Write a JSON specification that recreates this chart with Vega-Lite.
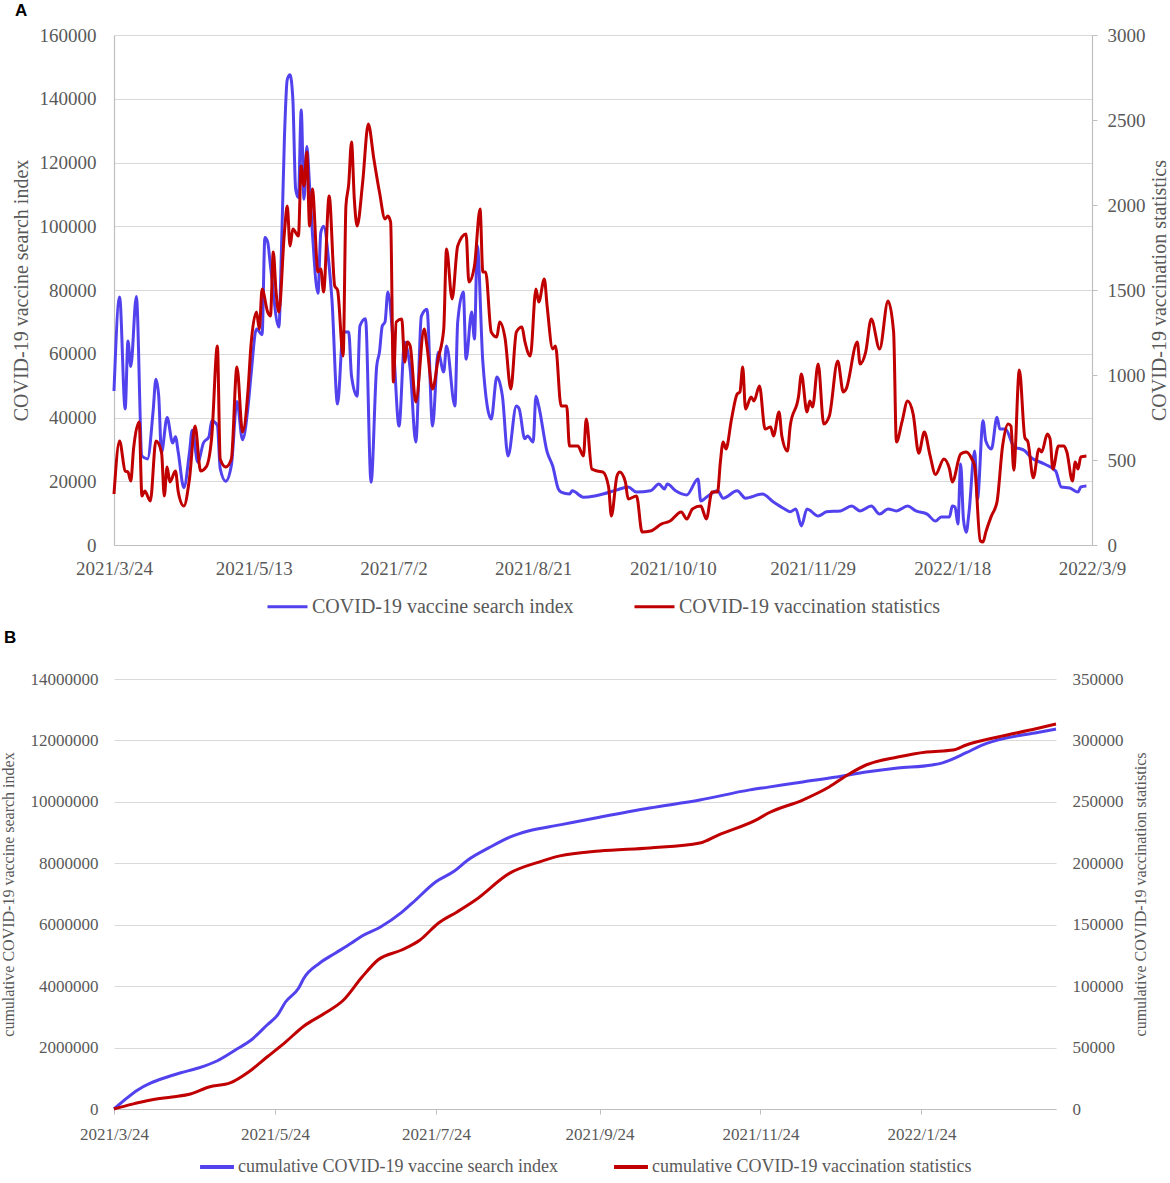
{
  "$schema": "https://vega.github.io/schema/vega-lite/v6.json",
  "padding": {"left": 0, "top": 2, "right": 0, "bottom": 0},
  "columns": 1,
  "align": "none",
  "spacing": 12,
  "datasets": {
    "a_search": [
      {"d": "2021-03-24", "v": 48300}, {"d": "2021-03-26", "v": 77800}, {"d": "2021-03-28", "v": 42700},
      {"d": "2021-03-29", "v": 64000}, {"d": "2021-03-30", "v": 56000}, {"d": "2021-04-01", "v": 78000},
      {"d": "2021-04-03", "v": 27900}, {"d": "2021-04-05", "v": 27000}, {"d": "2021-04-07", "v": 42000},
      {"d": "2021-04-08", "v": 52000}, {"d": "2021-04-09", "v": 46700}, {"d": "2021-04-10", "v": 29000},
      {"d": "2021-04-12", "v": 40000}, {"d": "2021-04-14", "v": 32000}, {"d": "2021-04-15", "v": 34000},
      {"d": "2021-04-16", "v": 29000}, {"d": "2021-04-18", "v": 18000}, {"d": "2021-04-20", "v": 29000},
      {"d": "2021-04-21", "v": 36000}, {"d": "2021-04-23", "v": 26000}, {"d": "2021-04-25", "v": 32000},
      {"d": "2021-04-27", "v": 34000}, {"d": "2021-04-28", "v": 39000}, {"d": "2021-04-30", "v": 37500},
      {"d": "2021-05-01", "v": 24000}, {"d": "2021-05-03", "v": 20000}, {"d": "2021-05-05", "v": 25000},
      {"d": "2021-05-07", "v": 45000}, {"d": "2021-05-09", "v": 33000}, {"d": "2021-05-11", "v": 43700},
      {"d": "2021-05-12", "v": 53000}, {"d": "2021-05-14", "v": 67800}, {"d": "2021-05-16", "v": 66000},
      {"d": "2021-05-17", "v": 96500}, {"d": "2021-05-18", "v": 95000}, {"d": "2021-05-19", "v": 87500},
      {"d": "2021-05-22", "v": 68400}, {"d": "2021-05-23", "v": 95000}, {"d": "2021-05-24", "v": 128000},
      {"d": "2021-05-25", "v": 146000}, {"d": "2021-05-26", "v": 147500}, {"d": "2021-05-27", "v": 140000},
      {"d": "2021-05-28", "v": 111700}, {"d": "2021-05-29", "v": 109000}, {"d": "2021-05-30", "v": 136500},
      {"d": "2021-05-31", "v": 108500}, {"d": "2021-06-01", "v": 125000}, {"d": "2021-06-02", "v": 112600},
      {"d": "2021-06-03", "v": 98000}, {"d": "2021-06-05", "v": 79000}, {"d": "2021-06-06", "v": 98000},
      {"d": "2021-06-07", "v": 100000}, {"d": "2021-06-09", "v": 87500}, {"d": "2021-06-10", "v": 77000},
      {"d": "2021-06-12", "v": 44200}, {"d": "2021-06-14", "v": 66800}, {"d": "2021-06-16", "v": 66800},
      {"d": "2021-06-17", "v": 53000}, {"d": "2021-06-19", "v": 46700}, {"d": "2021-06-20", "v": 68700},
      {"d": "2021-06-22", "v": 71000}, {"d": "2021-06-24", "v": 19700}, {"d": "2021-06-26", "v": 56000},
      {"d": "2021-06-27", "v": 60500}, {"d": "2021-06-28", "v": 68700}, {"d": "2021-06-29", "v": 70000},
      {"d": "2021-06-30", "v": 79400}, {"d": "2021-07-02", "v": 62400}, {"d": "2021-07-04", "v": 37300},
      {"d": "2021-07-06", "v": 63700}, {"d": "2021-07-08", "v": 55200}, {"d": "2021-07-10", "v": 32300},
      {"d": "2021-07-12", "v": 71800}, {"d": "2021-07-14", "v": 74000}, {"d": "2021-07-16", "v": 37300},
      {"d": "2021-07-18", "v": 60500}, {"d": "2021-07-20", "v": 54300}, {"d": "2021-07-21", "v": 62400},
      {"d": "2021-07-24", "v": 43600}, {"d": "2021-07-25", "v": 70000}, {"d": "2021-07-27", "v": 79400},
      {"d": "2021-07-28", "v": 58300}, {"d": "2021-07-30", "v": 73100}, {"d": "2021-07-31", "v": 64600},
      {"d": "2021-08-01", "v": 94000}, {"d": "2021-08-03", "v": 57400}, {"d": "2021-08-06", "v": 39500},
      {"d": "2021-08-08", "v": 52700}, {"d": "2021-08-10", "v": 46700}, {"d": "2021-08-12", "v": 27900},
      {"d": "2021-08-15", "v": 43600}, {"d": "2021-08-16", "v": 42700}, {"d": "2021-08-18", "v": 33300},
      {"d": "2021-08-19", "v": 34200}, {"d": "2021-08-21", "v": 32300}, {"d": "2021-08-22", "v": 46700},
      {"d": "2021-08-23", "v": 43600}, {"d": "2021-08-26", "v": 29200}, {"d": "2021-08-28", "v": 24800},
      {"d": "2021-08-30", "v": 17600}, {"d": "2021-08-31", "v": 16600}, {"d": "2021-09-03", "v": 16000},
      {"d": "2021-09-04", "v": 17000}, {"d": "2021-09-08", "v": 15000}, {"d": "2021-09-12", "v": 15400},
      {"d": "2021-09-15", "v": 16000}, {"d": "2021-09-20", "v": 17300}, {"d": "2021-09-24", "v": 18200},
      {"d": "2021-09-27", "v": 16600}, {"d": "2021-10-02", "v": 17000}, {"d": "2021-10-05", "v": 19100},
      {"d": "2021-10-07", "v": 17600}, {"d": "2021-10-08", "v": 19100}, {"d": "2021-10-11", "v": 17000},
      {"d": "2021-10-15", "v": 15700}, {"d": "2021-10-19", "v": 20700}, {"d": "2021-10-20", "v": 13800},
      {"d": "2021-10-22", "v": 15000}, {"d": "2021-10-26", "v": 17000}, {"d": "2021-10-28", "v": 14700},
      {"d": "2021-11-02", "v": 17000}, {"d": "2021-11-05", "v": 14700}, {"d": "2021-11-11", "v": 16000},
      {"d": "2021-11-15", "v": 13500}, {"d": "2021-11-19", "v": 11300}, {"d": "2021-11-21", "v": 10400},
      {"d": "2021-11-23", "v": 11300}, {"d": "2021-11-25", "v": 6000}, {"d": "2021-11-27", "v": 11300},
      {"d": "2021-12-01", "v": 9100}, {"d": "2021-12-04", "v": 10400}, {"d": "2021-12-09", "v": 10700},
      {"d": "2021-12-13", "v": 12200}, {"d": "2021-12-16", "v": 10700}, {"d": "2021-12-20", "v": 12200},
      {"d": "2021-12-23", "v": 9700}, {"d": "2021-12-26", "v": 11300}, {"d": "2021-12-29", "v": 10700},
      {"d": "2022-01-02", "v": 12200}, {"d": "2022-01-05", "v": 10700}, {"d": "2022-01-09", "v": 9700},
      {"d": "2022-01-12", "v": 7500}, {"d": "2022-01-14", "v": 8800}, {"d": "2022-01-17", "v": 8800},
      {"d": "2022-01-18", "v": 12200}, {"d": "2022-01-19", "v": 11900}, {"d": "2022-01-20", "v": 6600},
      {"d": "2022-01-21", "v": 25400}, {"d": "2022-01-22", "v": 8000}, {"d": "2022-01-23", "v": 4000},
      {"d": "2022-01-24", "v": 10400}, {"d": "2022-01-26", "v": 29500}, {"d": "2022-01-27", "v": 14400},
      {"d": "2022-01-29", "v": 39000}, {"d": "2022-01-30", "v": 32600}, {"d": "2022-02-01", "v": 30100},
      {"d": "2022-02-03", "v": 40100}, {"d": "2022-02-04", "v": 36400}, {"d": "2022-02-06", "v": 36400},
      {"d": "2022-02-09", "v": 31000}, {"d": "2022-02-13", "v": 29500}, {"d": "2022-02-15", "v": 27600},
      {"d": "2022-02-20", "v": 25400}, {"d": "2022-02-24", "v": 23200}, {"d": "2022-02-26", "v": 18200},
      {"d": "2022-03-01", "v": 17900}, {"d": "2022-03-04", "v": 16600}, {"d": "2022-03-05", "v": 18200},
      {"d": "2022-03-07", "v": 18500}
    ],
    "a_vacc": [
      {"d": "2021-03-24", "v": 300}, {"d": "2021-03-26", "v": 612}, {"d": "2021-03-28", "v": 435},
      {"d": "2021-03-29", "v": 429}, {"d": "2021-03-30", "v": 376}, {"d": "2021-03-31", "v": 565},
      {"d": "2021-04-02", "v": 724}, {"d": "2021-04-03", "v": 288}, {"d": "2021-04-04", "v": 318},
      {"d": "2021-04-06", "v": 259}, {"d": "2021-04-08", "v": 612}, {"d": "2021-04-10", "v": 547},
      {"d": "2021-04-11", "v": 288}, {"d": "2021-04-12", "v": 459}, {"d": "2021-04-13", "v": 371},
      {"d": "2021-04-15", "v": 435}, {"d": "2021-04-16", "v": 312}, {"d": "2021-04-18", "v": 229},
      {"d": "2021-04-20", "v": 388}, {"d": "2021-04-22", "v": 700}, {"d": "2021-04-24", "v": 435},
      {"d": "2021-04-26", "v": 459}, {"d": "2021-04-28", "v": 641}, {"d": "2021-04-30", "v": 1170},
      {"d": "2021-05-01", "v": 506}, {"d": "2021-05-03", "v": 459}, {"d": "2021-05-05", "v": 506},
      {"d": "2021-05-07", "v": 1047}, {"d": "2021-05-09", "v": 665}, {"d": "2021-05-11", "v": 918},
      {"d": "2021-05-12", "v": 1170}, {"d": "2021-05-14", "v": 1370}, {"d": "2021-05-15", "v": 1270},
      {"d": "2021-05-16", "v": 1506}, {"d": "2021-05-18", "v": 1370}, {"d": "2021-05-19", "v": 1347},
      {"d": "2021-05-20", "v": 1723}, {"d": "2021-05-21", "v": 1488}, {"d": "2021-05-22", "v": 1370},
      {"d": "2021-05-24", "v": 1841}, {"d": "2021-05-25", "v": 1994}, {"d": "2021-05-26", "v": 1759},
      {"d": "2021-05-27", "v": 1859}, {"d": "2021-05-29", "v": 1818}, {"d": "2021-05-30", "v": 2229},
      {"d": "2021-05-31", "v": 2112}, {"d": "2021-06-01", "v": 2312}, {"d": "2021-06-02", "v": 1876},
      {"d": "2021-06-03", "v": 2094}, {"d": "2021-06-05", "v": 1606}, {"d": "2021-06-06", "v": 1623},
      {"d": "2021-06-07", "v": 1488}, {"d": "2021-06-09", "v": 2053}, {"d": "2021-06-11", "v": 1523},
      {"d": "2021-06-12", "v": 1500}, {"d": "2021-06-14", "v": 1112}, {"d": "2021-06-15", "v": 1994},
      {"d": "2021-06-16", "v": 2123}, {"d": "2021-06-17", "v": 2370}, {"d": "2021-06-18", "v": 2035},
      {"d": "2021-06-19", "v": 1876}, {"d": "2021-06-21", "v": 2135}, {"d": "2021-06-23", "v": 2476},
      {"d": "2021-06-25", "v": 2270}, {"d": "2021-06-27", "v": 2076}, {"d": "2021-06-29", "v": 1918},
      {"d": "2021-06-30", "v": 1935}, {"d": "2021-07-01", "v": 1900}, {"d": "2021-07-02", "v": 959},
      {"d": "2021-07-03", "v": 1312}, {"d": "2021-07-05", "v": 1329}, {"d": "2021-07-06", "v": 1076},
      {"d": "2021-07-07", "v": 1194}, {"d": "2021-07-08", "v": 1170}, {"d": "2021-07-10", "v": 841},
      {"d": "2021-07-13", "v": 1270}, {"d": "2021-07-14", "v": 1170}, {"d": "2021-07-16", "v": 918},
      {"d": "2021-07-18", "v": 1094}, {"d": "2021-07-20", "v": 1270}, {"d": "2021-07-21", "v": 1741},
      {"d": "2021-07-23", "v": 1447}, {"d": "2021-07-25", "v": 1759}, {"d": "2021-07-28", "v": 1829},
      {"d": "2021-07-29", "v": 1547}, {"d": "2021-07-31", "v": 1641}, {"d": "2021-08-02", "v": 1976},
      {"d": "2021-08-03", "v": 1606}, {"d": "2021-08-04", "v": 1606}, {"d": "2021-08-06", "v": 1253},
      {"d": "2021-08-08", "v": 1223}, {"d": "2021-08-09", "v": 1312}, {"d": "2021-08-11", "v": 1211},
      {"d": "2021-08-13", "v": 918}, {"d": "2021-08-15", "v": 1253}, {"d": "2021-08-17", "v": 1282},
      {"d": "2021-08-18", "v": 1200}, {"d": "2021-08-20", "v": 1112}, {"d": "2021-08-22", "v": 1506},
      {"d": "2021-08-23", "v": 1429}, {"d": "2021-08-25", "v": 1565}, {"d": "2021-08-26", "v": 1406},
      {"d": "2021-08-28", "v": 1153}, {"d": "2021-08-29", "v": 1170}, {"d": "2021-08-31", "v": 818},
      {"d": "2021-09-02", "v": 818}, {"d": "2021-09-03", "v": 582}, {"d": "2021-09-06", "v": 582},
      {"d": "2021-09-08", "v": 524}, {"d": "2021-09-09", "v": 741}, {"d": "2021-09-11", "v": 447},
      {"d": "2021-09-13", "v": 435}, {"d": "2021-09-15", "v": 429}, {"d": "2021-09-17", "v": 341},
      {"d": "2021-09-18", "v": 171}, {"d": "2021-09-20", "v": 406}, {"d": "2021-09-21", "v": 429},
      {"d": "2021-09-23", "v": 371}, {"d": "2021-09-24", "v": 271}, {"d": "2021-09-27", "v": 288},
      {"d": "2021-09-29", "v": 76}, {"d": "2021-10-02", "v": 82}, {"d": "2021-10-06", "v": 124},
      {"d": "2021-10-09", "v": 141}, {"d": "2021-10-13", "v": 194}, {"d": "2021-10-15", "v": 153},
      {"d": "2021-10-17", "v": 212}, {"d": "2021-10-20", "v": 229}, {"d": "2021-10-22", "v": 153},
      {"d": "2021-10-24", "v": 312}, {"d": "2021-10-26", "v": 312}, {"d": "2021-10-27", "v": 488},
      {"d": "2021-10-28", "v": 606}, {"d": "2021-10-29", "v": 565}, {"d": "2021-10-31", "v": 741},
      {"d": "2021-11-02", "v": 888}, {"d": "2021-11-03", "v": 900}, {"d": "2021-11-04", "v": 1047},
      {"d": "2021-11-05", "v": 800}, {"d": "2021-11-07", "v": 871}, {"d": "2021-11-08", "v": 847},
      {"d": "2021-11-10", "v": 935}, {"d": "2021-11-12", "v": 682}, {"d": "2021-11-14", "v": 694},
      {"d": "2021-11-15", "v": 641}, {"d": "2021-11-17", "v": 782}, {"d": "2021-11-18", "v": 641},
      {"d": "2021-11-20", "v": 553}, {"d": "2021-11-21", "v": 700}, {"d": "2021-11-24", "v": 876},
      {"d": "2021-11-25", "v": 1006}, {"d": "2021-11-27", "v": 782}, {"d": "2021-11-28", "v": 847},
      {"d": "2021-11-29", "v": 812}, {"d": "2021-12-01", "v": 1065}, {"d": "2021-12-03", "v": 712},
      {"d": "2021-12-05", "v": 759}, {"d": "2021-12-08", "v": 1082}, {"d": "2021-12-10", "v": 900},
      {"d": "2021-12-11", "v": 918}, {"d": "2021-12-15", "v": 1194}, {"d": "2021-12-16", "v": 1065},
      {"d": "2021-12-18", "v": 1135}, {"d": "2021-12-20", "v": 1329}, {"d": "2021-12-23", "v": 1153},
      {"d": "2021-12-26", "v": 1435}, {"d": "2021-12-28", "v": 1253}, {"d": "2021-12-29", "v": 606},
      {"d": "2021-12-31", "v": 724}, {"d": "2022-01-02", "v": 847}, {"d": "2022-01-04", "v": 770},
      {"d": "2022-01-06", "v": 540}, {"d": "2022-01-08", "v": 665}, {"d": "2022-01-10", "v": 530},
      {"d": "2022-01-12", "v": 415}, {"d": "2022-01-15", "v": 506}, {"d": "2022-01-17", "v": 447},
      {"d": "2022-01-18", "v": 371}, {"d": "2022-01-21", "v": 535}, {"d": "2022-01-23", "v": 547},
      {"d": "2022-01-25", "v": 506}, {"d": "2022-01-26", "v": 465}, {"d": "2022-01-28", "v": 25},
      {"d": "2022-01-29", "v": 18}, {"d": "2022-01-30", "v": 76}, {"d": "2022-02-01", "v": 171},
      {"d": "2022-02-03", "v": 253}, {"d": "2022-02-05", "v": 582}, {"d": "2022-02-07", "v": 712},
      {"d": "2022-02-08", "v": 700}, {"d": "2022-02-09", "v": 440}, {"d": "2022-02-11", "v": 1030},
      {"d": "2022-02-13", "v": 630}, {"d": "2022-02-14", "v": 610}, {"d": "2022-02-16", "v": 395},
      {"d": "2022-02-18", "v": 565}, {"d": "2022-02-19", "v": 547}, {"d": "2022-02-21", "v": 653},
      {"d": "2022-02-22", "v": 624}, {"d": "2022-02-23", "v": 447}, {"d": "2022-02-25", "v": 582},
      {"d": "2022-02-27", "v": 582}, {"d": "2022-02-28", "v": 547}, {"d": "2022-03-02", "v": 376},
      {"d": "2022-03-03", "v": 488}, {"d": "2022-03-04", "v": 447}, {"d": "2022-03-05", "v": 518},
      {"d": "2022-03-07", "v": 524}
    ],
    "b_search": [
      {"d": "2021-03-24", "v": 0}, {"d": "2021-03-28", "v": 293000}, {"d": "2021-04-02", "v": 619000},
      {"d": "2021-04-07", "v": 847000}, {"d": "2021-04-12", "v": 1010000}, {"d": "2021-04-18", "v": 1172000},
      {"d": "2021-04-25", "v": 1335000}, {"d": "2021-05-02", "v": 1563000}, {"d": "2021-05-09", "v": 1921000},
      {"d": "2021-05-15", "v": 2247000}, {"d": "2021-05-21", "v": 2735000}, {"d": "2021-05-25", "v": 3061000},
      {"d": "2021-05-28", "v": 3484000}, {"d": "2021-06-02", "v": 3940000}, {"d": "2021-06-04", "v": 4265000},
      {"d": "2021-06-10", "v": 4754000}, {"d": "2021-06-16", "v": 5079000}, {"d": "2021-06-22", "v": 5405000},
      {"d": "2021-06-26", "v": 5633000}, {"d": "2021-07-03", "v": 5926000}, {"d": "2021-07-11", "v": 6400000},
      {"d": "2021-07-15", "v": 6700000}, {"d": "2021-07-24", "v": 7400000}, {"d": "2021-07-31", "v": 7750000},
      {"d": "2021-08-05", "v": 8100000}, {"d": "2021-08-13", "v": 8500000}, {"d": "2021-08-21", "v": 8850000},
      {"d": "2021-08-28", "v": 9050000}, {"d": "2021-09-09", "v": 9250000}, {"d": "2021-09-24", "v": 9500000},
      {"d": "2021-10-13", "v": 9800000}, {"d": "2021-11-01", "v": 10060000}, {"d": "2021-11-20", "v": 10390000},
      {"d": "2021-11-27", "v": 10480000}, {"d": "2021-12-10", "v": 10650000}, {"d": "2021-12-22", "v": 10800000},
      {"d": "2022-01-03", "v": 10970000}, {"d": "2022-01-15", "v": 11100000}, {"d": "2022-01-28", "v": 11200000},
      {"d": "2022-02-01", "v": 11270000}, {"d": "2022-02-10", "v": 11600000}, {"d": "2022-02-16", "v": 11850000},
      {"d": "2022-02-25", "v": 12080000}, {"d": "2022-03-08", "v": 12240000}, {"d": "2022-03-16", "v": 12370000}
    ],
    "b_vacc": [
      {"d": "2021-03-24", "v": 0}, {"d": "2021-03-31", "v": 4000}, {"d": "2021-04-07", "v": 7300},
      {"d": "2021-04-15", "v": 9800}, {"d": "2021-04-22", "v": 12200}, {"d": "2021-04-29", "v": 17900},
      {"d": "2021-05-07", "v": 21200}, {"d": "2021-05-14", "v": 30100}, {"d": "2021-05-21", "v": 42300},
      {"d": "2021-05-28", "v": 54500}, {"d": "2021-06-04", "v": 67600}, {"d": "2021-06-12", "v": 78100},
      {"d": "2021-06-19", "v": 88700}, {"d": "2021-06-26", "v": 107400}, {"d": "2021-07-02", "v": 121300},
      {"d": "2021-07-11", "v": 129400}, {"d": "2021-07-18", "v": 137600}, {"d": "2021-07-25", "v": 151400},
      {"d": "2021-08-01", "v": 160400}, {"d": "2021-08-08", "v": 170100}, {"d": "2021-08-21", "v": 192000},
      {"d": "2021-09-01", "v": 201000}, {"d": "2021-09-09", "v": 206000}, {"d": "2021-09-24", "v": 210000},
      {"d": "2021-10-13", "v": 212500}, {"d": "2021-11-01", "v": 216500}, {"d": "2021-11-08", "v": 223000},
      {"d": "2021-11-23", "v": 236000}, {"d": "2021-11-27", "v": 240900}, {"d": "2021-12-10", "v": 251500},
      {"d": "2021-12-20", "v": 262100}, {"d": "2021-12-27", "v": 271900}, {"d": "2022-01-03", "v": 280000},
      {"d": "2022-01-15", "v": 286500}, {"d": "2022-01-26", "v": 290600}, {"d": "2022-02-05", "v": 292200},
      {"d": "2022-02-10", "v": 296300}, {"d": "2022-02-22", "v": 302800}, {"d": "2022-03-08", "v": 309300},
      {"d": "2022-03-16", "v": 313400}
    ]
  },
  "concat": [
    {
      "title": {"text": "A", "anchor": "start", "frame": "bounds", "font": "Liberation Sans", "fontSize": 17, "fontWeight": "bold", "color": "black", "offset": 6, "dx": 4},
      "width": 978,
      "height": 510,
      "layer": [
        {
          "data": {"name": "a_search"},
          "mark": {"type": "line", "strokeWidth": 3, "interpolate": "monotone"},
          "encoding": {
            "x": {
              "field": "d", "type": "temporal",
              "scale": {"type": "utc", "domain": [{"year": 2021, "month": 3, "date": 24, "utc": true}, {"year": 2022, "month": 3, "date": 9, "utc": true}]},
              "axis": {
                "title": null, "grid": false, "ticks": false, "tickSize": 0, "labelPadding": 14, "labelFontSize": 19, "labelFlush": false,
                "format": "%Y/%-m/%-d",
                "values": [
                  {"year": 2021, "month": 3, "date": 24, "utc": true}, {"year": 2021, "month": 5, "date": 13, "utc": true},
                  {"year": 2021, "month": 7, "date": 2, "utc": true}, {"year": 2021, "month": 8, "date": 21, "utc": true},
                  {"year": 2021, "month": 10, "date": 10, "utc": true}, {"year": 2021, "month": 11, "date": 29, "utc": true},
                  {"year": 2022, "month": 1, "date": 18, "utc": true}, {"year": 2022, "month": 3, "date": 9, "utc": true}
                ]
              }
            },
            "y": {
              "field": "v", "type": "quantitative",
              "scale": {"domain": [0, 160000], "nice": false},
              "axis": {
                "title": "COVID-19 vaccine search index", "titleFontSize": 20, "titlePadding": 8,
                "labelFontSize": 19, "labelPadding": 18, "ticks": false, "tickSize": 0, "domain": true, "grid": true, "format": "d",
                "values": [0, 20000, 40000, 60000, 80000, 100000, 120000, 140000, 160000]
              }
            },
            "color": {
              "datum": "COVID-19 vaccine search index",
              "scale": {"domain": ["COVID-19 vaccine search index", "COVID-19 vaccination statistics"], "range": ["#5242EE", "#C00000"]},
              "legend": {
                "title": null, "orient": "bottom", "direction": "horizontal", "offset": 7,
                "symbolType": "stroke", "symbolStrokeWidth": 3, "symbolSize": 1600,
                "labelFontSize": 20, "labelOffset": 3, "columnPadding": 54
              }
            }
          }
        },
        {
          "data": {"name": "a_vacc"},
          "mark": {"type": "line", "strokeWidth": 3, "interpolate": "monotone"},
          "encoding": {
            "x": {"field": "d", "type": "temporal"},
            "y": {
              "field": "v", "type": "quantitative",
              "scale": {"domain": [0, 3000], "nice": false},
              "axis": {
                "orient": "right", "title": "COVID-19 vaccination statistics", "titleFontSize": 20, "titleAngle": 270, "titleBaseline": "top", "titlePadding": 4,
                "labelFontSize": 19, "labelPadding": 10, "ticks": true, "tickSize": 5, "domain": true, "grid": false, "format": "d",
                "values": [0, 500, 1000, 1500, 2000, 2500, 3000]
              }
            },
            "color": {"datum": "COVID-19 vaccination statistics"}
          }
        }
      ],
      "resolve": {"scale": {"y": "independent"}}
    },
    {
      "title": {"text": "B", "anchor": "start", "frame": "bounds", "font": "Liberation Sans", "fontSize": 17, "fontWeight": "bold", "color": "black", "offset": 23, "dx": 4},
      "width": 942,
      "height": 430,
      "layer": [
        {
          "data": {"name": "b_search"},
          "mark": {"type": "line", "strokeWidth": 3, "interpolate": "monotone"},
          "encoding": {
            "x": {
              "field": "d", "type": "temporal",
              "scale": {"type": "utc", "domain": [{"year": 2021, "month": 3, "date": 24, "utc": true}, {"year": 2022, "month": 3, "date": 16, "utc": true}]},
              "axis": {
                "title": null, "grid": false, "ticks": true, "tickSize": 5, "labelPadding": 12, "labelFontSize": 17, "labelFlush": false,
                "format": "%Y/%-m/%-d",
                "values": [
                  {"year": 2021, "month": 3, "date": 24, "utc": true}, {"year": 2021, "month": 5, "date": 24, "utc": true},
                  {"year": 2021, "month": 7, "date": 24, "utc": true}, {"year": 2021, "month": 9, "date": 24, "utc": true},
                  {"year": 2021, "month": 11, "date": 24, "utc": true}, {"year": 2022, "month": 1, "date": 24, "utc": true}
                ]
              }
            },
            "y": {
              "field": "v", "type": "quantitative",
              "scale": {"domain": [0, 14000000], "nice": false},
              "axis": {
                "title": "cumulative COVID-19 vaccine search index", "titleFontSize": 16, "titlePadding": 14,
                "labelFontSize": 17, "labelPadding": 16, "ticks": false, "tickSize": 0, "domain": false, "grid": true, "format": "d",
                "values": [0, 2000000, 4000000, 6000000, 8000000, 10000000, 12000000, 14000000]
              }
            },
            "color": {
              "datum": "cumulative COVID-19 vaccine search index",
              "scale": {"domain": ["cumulative COVID-19 vaccine search index", "cumulative COVID-19 vaccination statistics"], "range": ["#5242EE", "#C00000"]},
              "legend": {
                "title": null, "orient": "bottom", "direction": "horizontal", "offset": 6,
                "symbolType": "stroke", "symbolStrokeWidth": 4, "symbolSize": 1150,
                "labelFontSize": 18, "labelOffset": 2, "columnPadding": 48
              }
            }
          }
        },
        {
          "data": {"name": "b_vacc"},
          "mark": {"type": "line", "strokeWidth": 3, "interpolate": "monotone"},
          "encoding": {
            "x": {"field": "d", "type": "temporal"},
            "y": {
              "field": "v", "type": "quantitative",
              "scale": {"domain": [0, 350000], "nice": false},
              "axis": {
                "orient": "right", "title": "cumulative COVID-19 vaccination statistics", "titleFontSize": 16, "titleAngle": 270, "titleBaseline": "top", "titlePadding": 9,
                "labelFontSize": 17, "labelPadding": 16, "ticks": false, "tickSize": 0, "domain": false, "grid": false, "format": "d",
                "values": [0, 50000, 100000, 150000, 200000, 250000, 300000, 350000]
              }
            },
            "color": {"datum": "cumulative COVID-19 vaccination statistics"}
          }
        }
      ],
      "resolve": {"scale": {"y": "independent"}}
    }
  ],
  "resolve": {"scale": {"color": "independent"}, "legend": {"color": "independent"}},
  "config": {
    "view": {"stroke": null},
    "font": "Liberation Serif",
    "axis": {
      "labelFont": "Liberation Serif", "titleFont": "Liberation Serif",
      "labelColor": "#595959", "titleColor": "#595959", "titleFontWeight": "normal",
      "gridColor": "#d9d9d9", "gridWidth": 1.2, "domainColor": "#bfbfbf", "domainWidth": 1.2, "tickColor": "#bfbfbf"
    },
    "legend": {
      "labelFont": "Liberation Serif", "labelColor": "#595959", "labelLimit": 0,
      "layout": {"bottom": {"anchor": "middle"}}
    }
  }
}
